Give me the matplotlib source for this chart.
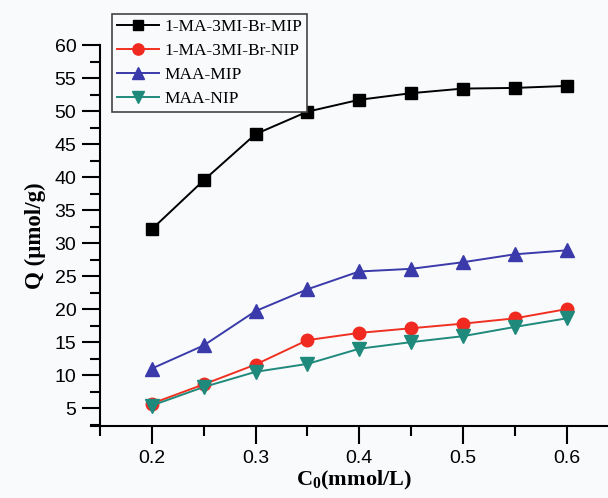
import numpy as np
import matplotlib
matplotlib.use("Agg")
import matplotlib.pyplot as plt
from matplotlib.ticker import MultipleLocator

# concentration C0 (mmol/L)
c0 = [0.20, 0.25, 0.30, 0.35, 0.40, 0.45, 0.50, 0.55, 0.60]

# adsorption Q (umol/g)
q_ma_mip = [32.1, 39.5, 46.5, 49.9, 51.7, 52.7, 53.4, 53.5, 53.8]
q_ma_nip = [5.7, 8.6, 11.6, 15.3, 16.4, 17.1, 17.8, 18.6, 20.0]
q_maa_mip = [11.0, 14.5, 19.7, 23.0, 25.7, 26.1, 27.1, 28.3, 28.9]
q_maa_nip = [5.4, 8.2, 10.5, 11.7, 14.0, 15.0, 15.9, 17.3, 18.6]

labels = ['1-MA-3MI-Br-MIP', '1-MA-3MI-Br-NIP', 'MAA-MIP', 'MAA-NIP']

plt.rcParams['mathtext.default'] = 'regular'

bg = '#f9fafc'
fig = plt.figure(figsize=(6.08, 4.98), dpi=100, facecolor=bg)
ax = fig.add_axes([100 / 608, 72 / 498, 1 - 100 / 608, 381 / 498], facecolor=bg)

ax.plot(c0, q_ma_mip, '-s', color='black', lw=1.4, ms=8, label=labels[0])
ax.plot(c0, q_ma_nip, '-o', color='#f03020', mfc='#f02a20', mec='#f02a20',
        lw=1.4, ms=9, label=labels[1])
ax.plot(c0, q_maa_mip, '-^', color='#3a3aaa', lw=1.4, ms=10, label=labels[2])
ax.plot(c0, q_maa_nip, '-v', color='#1f8a7c', lw=1.4, ms=10, label=labels[3])

ax.set_xlim(0.15, 0.64)
ax.set_ylim(2.3, 60)

ax.xaxis.set_minor_locator(MultipleLocator(0.05))
ax.yaxis.set_minor_locator(MultipleLocator(2.5))
ax.set_yticks([5, 10, 15, 20, 25, 30, 35, 40, 45, 50, 55, 60])
ax.set_xticks([0.2, 0.3, 0.4, 0.5, 0.6])
ax.set_xticklabels(['0.2', '0.3', '0.4', '0.5', '0.6'])

for s in ['top', 'right']:
    ax.spines[s].set_visible(False)
for s in ['left', 'bottom']:
    ax.spines[s].set_linewidth(1.5)
# Origin-style corner: bottom axis line runs a bit past the left axis
ax.spines['bottom'].set_bounds(0.141, 0.64)

ax.tick_params(which='major', direction='out', length=13, width=1.5,
               labelsize=14, pad=4)
ax.tick_params(which='minor', direction='out', length=7, width=1.5)
for t in ax.get_xticklabels() + ax.get_yticklabels():
    t.set_fontfamily('Liberation Sans')

ax.set_xlabel('C$_0$(mmol/L)', family='Liberation Serif', fontweight='bold',
              fontsize=16, labelpad=2)
ax.set_ylabel('Q (\u03bcmol/g)', family='Liberation Serif', fontweight='bold',
              fontsize=16.5, labelpad=6)

leg = ax.legend(loc='upper left', bbox_to_anchor=(112 / 608, 1 - 14 / 498),
                bbox_transform=fig.transFigure, borderaxespad=0,
                prop={'family': 'Liberation Serif', 'size': 12.5},
                handlelength=2.4, handletextpad=0.3, labelspacing=0.45,
                borderpad=0.3, fancybox=False, framealpha=1, markerscale=0.9)
leg.get_frame().set_edgecolor('#444444')
leg.get_frame().set_linewidth(1.2)
leg.get_frame().set_facecolor(bg)

fig.savefig('out.png', dpi=100, facecolor=bg)
